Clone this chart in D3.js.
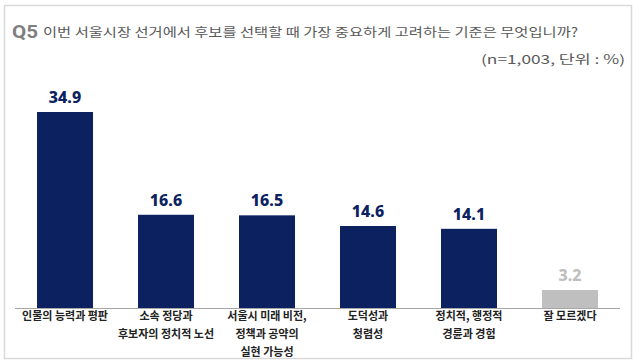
<!DOCTYPE html>
<html><head><meta charset="utf-8">
<script src="https://cdn.jsdelivr.net/npm/d3@7"></script>
<style>
html,body{margin:0;padding:0;background:#fff;}
svg{display:block;}
</style></head>
<body>
<svg id="chart" width="640" height="362"></svg>
<script>
const categories = [
  ["인물의 능력과 평판"],
  ["소속 정당과", "후보자의 정치적 노선"],
  ["서울시 미래 비전,", "정책과 공약의", "실현 가능성"],
  ["도덕성과", "청렴성"],
  ["정치적, 행정적", "경륜과 경험"],
  ["잘 모르겠다"]
];
const values = [34.9, 16.6, 16.5, 14.6, 14.1, 3.2];
const valueLabels = ["34.9", "16.6", "16.5", "14.6", "14.1", "3.2"];
const titleQ = "Q5";
const titleText = "이번 서울시장 선거에서 후보를 선택할 때 가장 중요하게 고려하는 기준은 무엇입니까?";
const noteText = "(n=1,003,  단위 : %)";

const svg = d3.select("#chart");
const kr = "'Noto Sans CJK KR', 'Noto Sans', sans-serif";

// outer frame
svg.append("rect").attr("x", 4.5).attr("y", 5.5).attr("width", 627).attr("height", 353)
  .attr("fill", "#fff").attr("stroke", "#d9d9d9").attr("stroke-width", 1.5);

// title
svg.append("text").attr("x", 12).attr("y", 38).text(titleQ)
  .attr("font-family", "'Roboto', sans-serif").attr("font-weight", 700)
  .attr("font-size", 19).attr("fill", "#7f7f7f")
  .attr("textLength", 26).attr("lengthAdjust", "spacingAndGlyphs");
svg.append("text").attr("x", 43).attr("y", 37).text(titleText)
  .attr("font-family", kr).attr("font-size", 12.5).attr("fill", "#595959")
  .attr("textLength", 535).attr("lengthAdjust", "spacingAndGlyphs");
svg.append("text").attr("x", 625).attr("y", 64).attr("text-anchor", "end").text(noteText)
  .attr("font-family", kr).attr("font-size", 12.5).attr("fill", "#595959")
  .attr("textLength", 144).attr("lengthAdjust", "spacingAndGlyphs");

const baseY = 308;
const x = d3.scaleBand().domain(d3.range(values.length)).range([15, 620]).paddingInner(0.4455).paddingOuter(0.218);
const y = d3.scaleLinear().domain([0, 34.9]).range([baseY, 112]);

const colors = i => i === values.length - 1 ? "#bfbfbf" : "#0c2260";

svg.append("g").selectAll("rect").data(values).join("rect")
  .attr("x", (d, i) => x(i)).attr("width", x.bandwidth())
  .attr("y", d => y(d)).attr("height", d => baseY - y(d))
  .attr("fill", (d, i) => colors(i));

svg.append("g").selectAll("text").data(values).join("text")
  .attr("x", (d, i) => x(i) + x.bandwidth() / 2)
  .attr("y", d => y(d) - 9)
  .attr("text-anchor", "middle")
  .attr("font-family", "'Noto Sans', sans-serif").attr("font-weight", 800)
  .attr("font-size", 16).attr("fill", (d, i) => colors(i))
  .text((d, i) => valueLabels[i]);

// baseline axis
const axis = d3.axisBottom(x).tickSize(0).tickFormat("");
const ag = svg.append("g").attr("transform", `translate(0,${baseY})`).call(axis);
ag.select(".domain").attr("stroke", "#a6a6a6").attr("stroke-width", 1).attr("d", "M15,0.5H620");

// category labels
const lab = svg.append("g").selectAll("text").data(categories).join("text")
  .attr("text-anchor", "middle")
  .attr("font-family", kr).attr("font-weight", 700).attr("font-size", 11).attr("fill", "#222");
lab.each(function(lines, i) {
  const t = d3.select(this);
  lines.forEach((l, j) => {
    t.append("tspan").attr("x", x(i) + x.bandwidth() / 2).attr("y", 320 + j * 18).text(l);
  });
});
</script>
</body></html>
